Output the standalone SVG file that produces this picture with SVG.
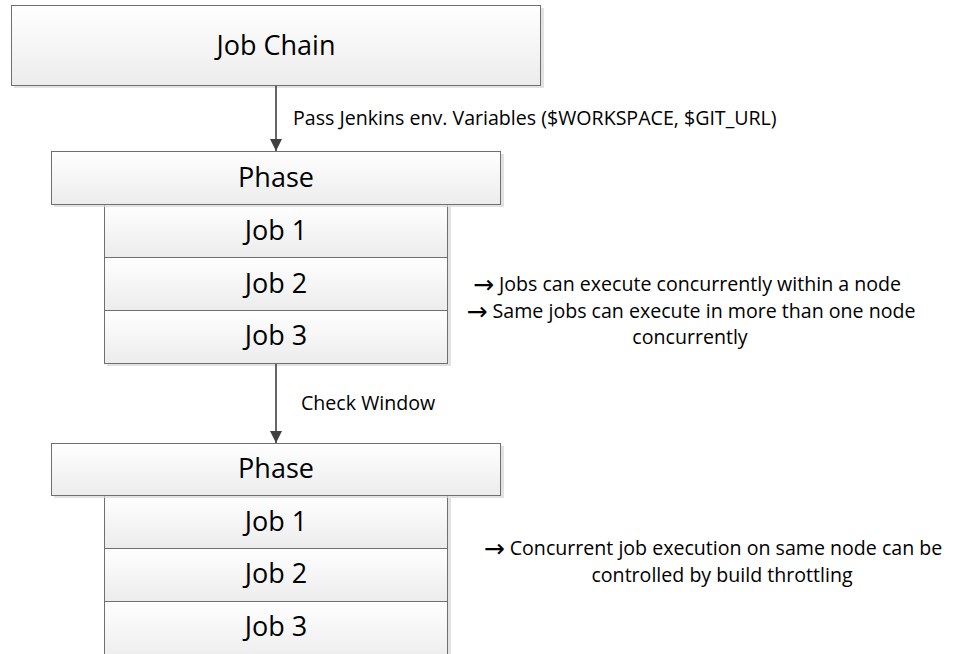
<svg xmlns="http://www.w3.org/2000/svg" width="957" height="654" viewBox="0 0 957 654">
  <style>
    .box { fill: url(#boxFill); stroke: #6f6f6f; stroke-width: 1; }
    .shadow { fill: #d6d6d6; opacity: 0.7; }
    .title { font-family: "Open Sans", "Noto Sans", sans-serif; font-size: 27px; fill: #000; text-anchor: middle; }
    .note { font-family: "Open Sans", "Noto Sans", sans-serif; font-size: 19.6px; fill: #000; }
    .arr { font-family: "DejaVu Sans", sans-serif; font-size: 25px; }
    .conn { stroke: #404040; stroke-width: 1.6; fill: none; marker-end: url(#arrow); }
  </style>
  <defs>
    <linearGradient id="boxFill" x1="0" y1="0" x2="0" y2="1">
      <stop offset="0" stop-color="#ffffff"/>
      <stop offset="1" stop-color="#ececec"/>
    </linearGradient>
    <marker id="arrow" viewBox="0 0 12 12" refX="12" refY="6" markerWidth="12" markerHeight="12" markerUnits="userSpaceOnUse" orient="auto">
      <path d="M0,0 L12,6 L0,12 z" fill="#404040"/>
    </marker>
  </defs>

  <rect width="957" height="654" fill="#ffffff"/>

  <!-- top level job chain -->
  <g id="job-chain">
    <rect class="shadow" x="14" y="8" width="530" height="80"/>
    <rect class="box" x="11.5" y="5.5" width="529" height="80"/>
    <text class="title" x="276" y="55">Job Chain</text>
  </g>

  <!-- first phase with its jobs -->
  <g id="phase1-job1">
    <rect class="shadow" x="107" y="207" width="344" height="53"/>
    <rect class="box" x="104.5" y="204.5" width="343" height="53"/>
    <text class="title" x="276" y="240">Job 1</text>
  </g>
  <g id="phase1-job2">
    <rect class="shadow" x="107" y="260" width="344" height="53"/>
    <rect class="box" x="104.5" y="257.5" width="343" height="53"/>
    <text class="title" x="276" y="293">Job 2</text>
  </g>
  <g id="phase1-job3">
    <rect class="shadow" x="107" y="313" width="344" height="53"/>
    <rect class="box" x="104.5" y="310.5" width="343" height="53"/>
    <text class="title" x="276" y="345">Job 3</text>
  </g>
  <g id="phase1">
    <rect class="shadow" x="54" y="154" width="450" height="53"/>
    <rect class="box" x="51.5" y="151.5" width="449" height="53"/>
    <text class="title" x="276" y="187">Phase</text>
  </g>

  <!-- second phase with its jobs -->
  <g id="phase2-job1">
    <rect class="shadow" x="107" y="498" width="344" height="53"/>
    <rect class="box" x="104.5" y="495.5" width="343" height="53"/>
    <text class="title" x="276" y="531">Job 1</text>
  </g>
  <g id="phase2-job2">
    <rect class="shadow" x="107" y="551" width="344" height="53"/>
    <rect class="box" x="104.5" y="548.5" width="343" height="53"/>
    <text class="title" x="276" y="583">Job 2</text>
  </g>
  <g id="phase2-job3">
    <rect class="shadow" x="107" y="604" width="344" height="60"/>
    <rect class="box" x="104.5" y="601.5" width="343" height="60"/>
    <text class="title" x="276" y="636">Job 3</text>
  </g>
  <g id="phase2">
    <rect class="shadow" x="54" y="446" width="450" height="52"/>
    <rect class="box" x="51.5" y="443.5" width="449" height="52"/>
    <text class="title" x="276" y="478">Phase</text>
  </g>

  <!-- connectors -->
  <g id="connectors">
    <line class="conn" x1="276" y1="86" x2="276" y2="151"/>
    <line class="conn" x1="276" y1="364" x2="276" y2="443"/>
    <text class="note" x="293" y="125">Pass Jenkins env. Variables ($WORKSPACE, $GIT_URL)</text>
    <text class="note" x="301" y="410">Check Window</text>
  </g>

  <!-- side notes -->
  <g id="note-concurrency">
    <text class="note" x="687" y="291" text-anchor="middle"><tspan class="arr" dy="2">→</tspan><tspan dy="-2"> Jobs can execute concurrently within a node</tspan></text>
    <text class="note" x="691" y="318" text-anchor="middle"><tspan class="arr" dy="2">→</tspan><tspan dy="-2"> Same jobs can execute in more than one node</tspan></text>
    <text class="note" x="690" y="344" text-anchor="middle">concurrently</text>
  </g>
  <g id="note-throttling">
    <text class="note" x="713" y="555" text-anchor="middle"><tspan class="arr" dy="2">→</tspan><tspan dy="-2"> Concurrent job execution on same node can be</tspan></text>
    <text class="note" x="722" y="582" text-anchor="middle">controlled by build throttling</text>
  </g>
</svg>
